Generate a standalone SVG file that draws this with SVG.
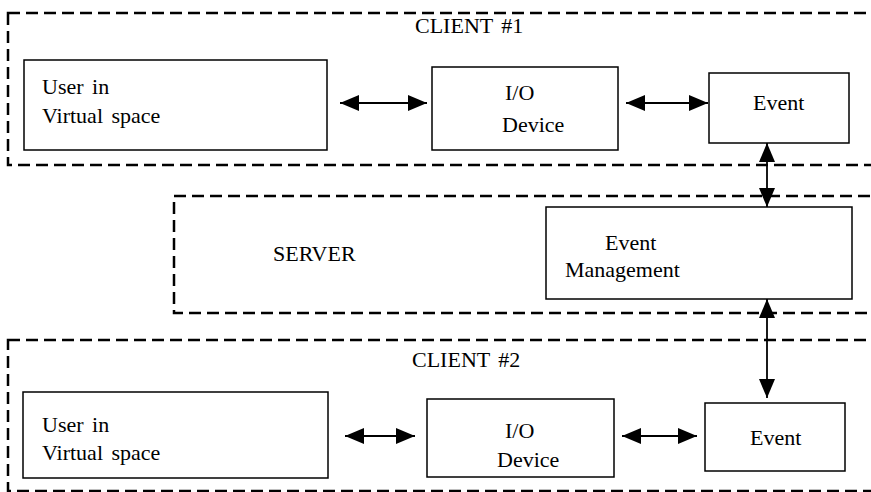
<svg xmlns="http://www.w3.org/2000/svg" width="871" height="492" viewBox="0 0 871 492">
<style>
.grp{fill:none;stroke:#000;stroke-width:2.5;stroke-dasharray:12 6}
.box{fill:#fff;stroke:#000;stroke-width:1.5}
.t{font-size:22px;fill:#000;word-spacing:3px}
.c{stroke:#000;stroke-width:1.8;fill:none;marker-start:url(#ah);marker-end:url(#ah)}
</style>
<defs>
<marker id="ah" markerUnits="userSpaceOnUse" markerWidth="19" markerHeight="16" refX="19" refY="8" orient="auto-start-reverse" viewBox="0 0 19 16">
<path d="M0,0 L19,8 L0,16 Z" fill="#000"/>
</marker>
</defs>
<rect width="871" height="492" fill="#fff"/>
<g font-family="'Liberation Serif', 'Times New Roman', 'DejaVu Serif', serif">
<g id="client1">
<rect class="grp" x="8" y="13" width="880" height="152"/>
<text class="t" x="415" y="33">CLIENT #1</text>
</g>
<g id="server">
<rect class="grp" x="174" y="196" width="720" height="117"/>
<text class="t" x="273" y="261">SERVER</text>
</g>
<g id="client2">
<rect class="grp" x="8" y="340" width="880" height="151"/>
<text class="t" x="412" y="367">CLIENT #2</text>
</g>
<g id="user1">
<rect class="box" x="24" y="60" width="303" height="90"/>
<text class="t" x="42" y="94">User in</text>
<text class="t" x="42" y="123">Virtual space</text>
</g>
<g id="io1">
<rect class="box" x="432" y="67" width="186" height="83"/>
<text class="t" x="505" y="100">I/O</text>
<text class="t" x="502" y="132">Device</text>
</g>
<g id="event1">
<rect class="box" x="709" y="73" width="140" height="70"/>
<text class="t" x="753" y="110">Event</text>
</g>
<g id="eventmgmt">
<rect class="box" x="546" y="207" width="306" height="92"/>
<text class="t" x="605" y="250">Event</text>
<text class="t" x="565" y="277">Management</text>
</g>
<g id="user2">
<rect class="box" x="23" y="392" width="305" height="86"/>
<text class="t" x="42" y="432">User in</text>
<text class="t" x="42" y="460">Virtual space</text>
</g>
<g id="io2">
<rect class="box" x="427" y="399" width="187" height="78"/>
<text class="t" x="505" y="438">I/O</text>
<text class="t" x="497" y="467">Device</text>
</g>
<g id="event2">
<rect class="box" x="705" y="403" width="140" height="68"/>
<text class="t" x="750" y="445">Event</text>
</g>
</g>
<g id="connectors">
<line class="c" x1="340" y1="103" x2="427" y2="103"/>
<line class="c" x1="626" y1="103" x2="708" y2="103"/>
<line class="c" x1="767" y1="143" x2="767" y2="207"/>
<line class="c" x1="767" y1="299" x2="767" y2="398"/>
<line class="c" x1="345" y1="436" x2="415" y2="436"/>
<line class="c" x1="622" y1="436" x2="697" y2="436"/>
</g>
</svg>
